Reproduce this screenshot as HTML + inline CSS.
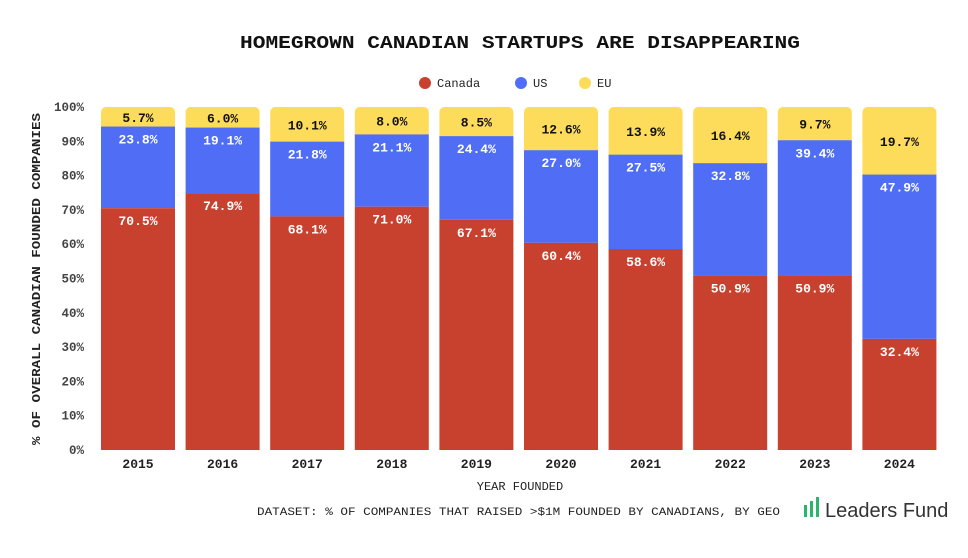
<!DOCTYPE html>
<html><head><meta charset="utf-8"><style>
body{margin:0;background:#fff;}
svg text{font-family:"Liberation Mono",monospace;}
</style></head><body>
<svg width="968" height="553">
<text x="240" y="48" textLength="560" lengthAdjust="spacingAndGlyphs" font-size="18" font-weight="bold" fill="#111">HOMEGROWN CANADIAN STARTUPS ARE DISAPPEARING</text>
<g>
<circle cx="425" cy="83" r="6" fill="#c8412f"/>
<text x="437" y="87" font-size="12" fill="#222">Canada</text>
<circle cx="521" cy="83" r="6" fill="#4f6ef5"/>
<text x="533" y="87" font-size="12" fill="#222">US</text>
<circle cx="585" cy="83" r="6" fill="#fddc5c"/>
<text x="597" y="87" font-size="12" fill="#222">EU</text>
</g>
<g id="yaxis"></g>
<g id="bars"></g>
<text transform="translate(40,279) rotate(-90)" text-anchor="middle" textLength="332" lengthAdjust="spacingAndGlyphs" font-size="12" font-weight="bold" fill="#222">% OF OVERALL CANADIAN FOUNDED COMPANIES</text>
<text x="520" y="490" text-anchor="middle" font-size="12" fill="#222">YEAR FOUNDED</text>
<text x="257" y="515" textLength="523" lengthAdjust="spacingAndGlyphs" font-size="11" fill="#222">DATASET: % OF COMPANIES THAT RAISED &gt;$1M FOUNDED BY CANADIANS, BY GEO</text>
<g>
<rect x="804" y="505" width="3" height="12" fill="#2db36b"/><rect x="810" y="501" width="3" height="16" fill="#2db36b"/><rect x="816" y="497" width="3" height="20" fill="#2db36b"/>
<text x="825" y="517" style="font-family:'Liberation Sans',sans-serif" font-size="20" fill="#333">Leaders Fund</text>
</g>
</svg>
<script>
const years=["2015","2016","2017","2018","2019","2020","2021","2022","2023","2024"];
const canada=[70.5,74.9,68.1,71.0,67.1,60.4,58.6,50.9,50.9,32.4];
const us=[23.8,19.1,21.8,21.1,24.4,27.0,27.5,32.8,39.4,47.9];
const eu=[5.7,6.0,10.1,8.0,8.5,12.6,13.9,16.4,9.7,19.7];
const yTicks=[0,10,20,30,40,50,60,70,80,90,100];
const NS="http://www.w3.org/2000/svg";
const y0=450,y100=107;
function y(v){return y0-(y0-y100)*v/100;}
const step=84.6,bw=74,x0=101;
function x(i){return x0+i*step;}
function el(t,a,p){const e=document.createElementNS(NS,t);for(const k in a)e.setAttribute(k,a[k]);p.appendChild(e);return e;}
const ya=document.getElementById('yaxis');
yTicks.forEach(t=>{const e=el('text',{x:84,y:y(t)+4,'text-anchor':'end','font-size':12.5,'font-weight':'bold',fill:'#444'},ya);e.textContent=t+'%';

});
const g=document.getElementById('bars');
years.forEach((yr,i)=>{
 const bx=x(i);const tot=canada[i]+us[i]+eu[i];const sc=100/tot;
 const c=canada[i]*sc,u=us[i]*sc;
 const ey=el('rect',{x:bx,y:y(100),width:bw,height:y(c+u)-y(100)+6,rx:5,fill:'#fddc5c'},g);
 
 
 const ub=el('rect',{x:bx,y:y(c+u),width:bw,height:y(c)-y(c+u),fill:'#4f6ef5'},g);
 
 
 const cb=el('rect',{x:bx,y:y(c),width:bw,height:y0-y(c),fill:'#c8412f'},g);
 
 
 const cx=bx+bw/2;
 const t1=el('text',{x:cx,y:(y(100)+y(c+u))/2+5,'text-anchor':'middle','font-size':13,'font-weight':'bold',fill:'#111'},g);t1.textContent=eu[i].toFixed(1)+'%';
 
 
 const t2=el('text',{x:cx,y:y(c+u)+17,'text-anchor':'middle','font-size':13,'font-weight':'bold',fill:'#fff'},g);t2.textContent=us[i].toFixed(1)+'%';
 
 
 const t3=el('text',{x:cx,y:y(c)+17,'text-anchor':'middle','font-size':13,'font-weight':'bold',fill:'#fff'},g);t3.textContent=canada[i].toFixed(1)+'%';
 
 
 const xl=el('text',{x:cx,y:468,'text-anchor':'middle','font-size':13,'font-weight':'bold',fill:'#222'},g);xl.textContent=yr;
 
 
});
</script>
</body></html>
